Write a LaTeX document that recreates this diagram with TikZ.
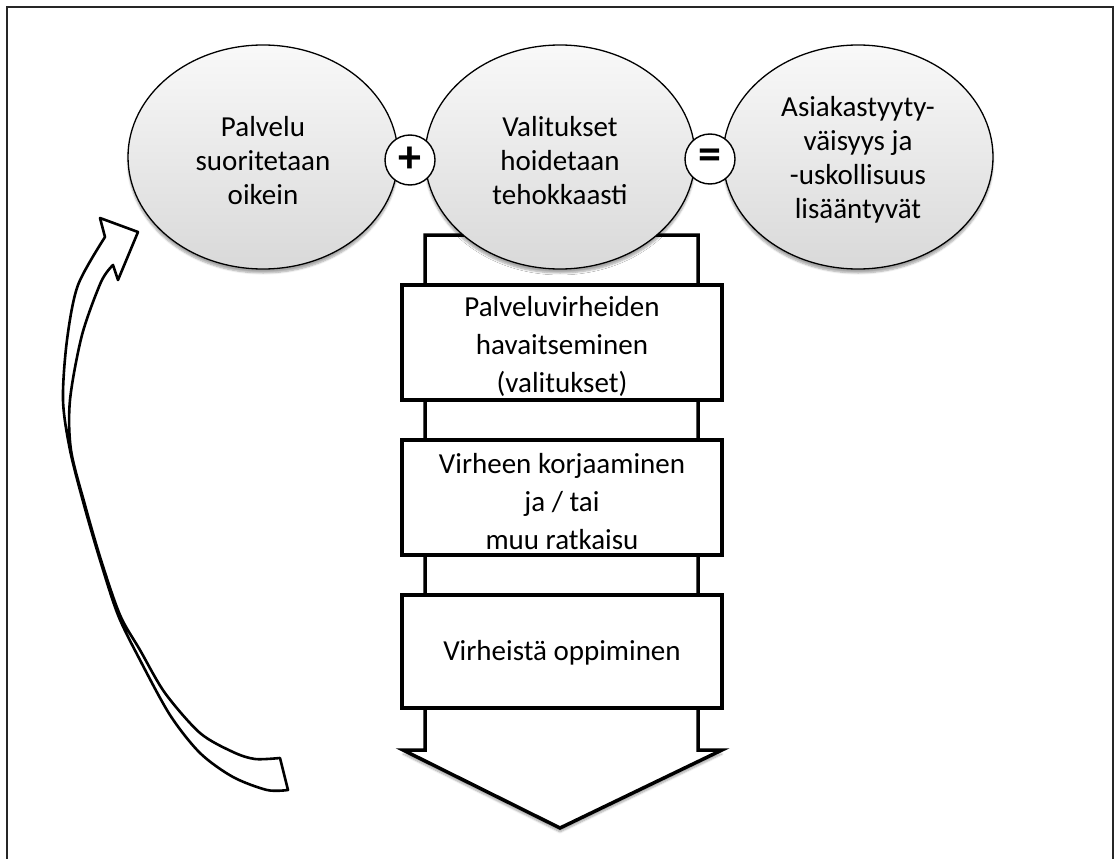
\documentclass[tikz,border=0pt]{standalone}
\usepackage{fontspec}
\setmainfont{Carlito}
\usetikzlibrary{shapes.geometric,shadows.blur}

\begin{document}
\begin{tikzpicture}[x=1pt,y=-1pt,
  softshadow/.style={blur shadow={shadow xshift=0pt, shadow yshift=-4pt,
    shadow blur steps=6, shadow opacity=35}},
  bubble/.style={ellipse, draw=black, line width=1.3pt, minimum width=270pt,
    minimum height=224pt, inner sep=0pt, top color=gray!5, bottom color=gray!30, softshadow},
  bubbletext/.style={align=center, inner sep=0pt, font=\fontsize{29}{34}\selectfont},
  opcircle/.style={circle, draw=black, fill=white, line width=1.4pt, minimum size=50pt,
    inner sep=0pt, font=\fontsize{46}{46}\selectfont\bfseries},
  flowarrow/.style={draw=black, fill=white, line width=3.5pt, line join=miter, softshadow},
  stepbox/.style={rectangle, draw=black, fill=white, line width=3.5pt, minimum width=320pt,
    inner sep=0pt},
  steptext/.style={align=center, inner sep=0pt, font=\fontsize{29}{38}\selectfont},
  loopband/.style={draw=black, fill=white, line width=2.6pt, line join=round}
]
\useasboundingbox (0,0) rectangle (1117,859);
\clip (0,0) rectangle (1117,859);

% outer frame
\draw[line width=2pt, draw=black!85] (7,7) rectangle (1113,880);

% big downward arrow behind the steps
\path[flowarrow] (425,235) -- (698,235) -- (698,750) -- (722,750) -- (560,828)
  -- (403,750) -- (425,750) -- cycle;

% steps
\node[stepbox, minimum height=115pt] (b1) at (562,342.5) {};
\node[stepbox, minimum height=115pt] (b2) at (562,497.5) {};
\node[stepbox, minimum height=113pt] (b3) at (562,651.5) {};
\node[steptext] (s1) at ([yshift=-4pt]b1.center) {Palveluvirheiden\\havaitseminen\\(valitukset)};
\node[steptext] (s2) at ([yshift=-4pt]b2.center) {Virheen korjaaminen\\ja / tai\\muu ratkaisu};
\node[steptext] (s3) at ([yshift=-1pt]b3.center) {Virheistä oppiminen};

% the equation of ellipses
\node[bubble] (e1) at (263,157) {};
\node[bubble] (e2) at (560,157) {};
\node[bubble] (e3) at (858,157) {};
\node[bubbletext] (t1) at (263,161) {Palvelu\\suoritetaan\\oikein};
\node[bubbletext] (t2) at (560,161) {Valitukset\\hoidetaan\\tehokkaasti};
\node[bubbletext] (t3) at (858,160) {Asiakastyyty-\\väisyys ja\\-uskollisuus\\lisääntyvät};

\node[opcircle] (plus) at (410,160) {+};
\node[opcircle] (eq) at (710,159) {=};

% curved feedback arrow on the left
\path[loopband]
  plot[smooth, tension=0.5] coordinates {(288,790) (267,790) (233,777) (200,753)
    (170,715) (140,660) (118,615) (100,560) (84,505) (70,450) (63,400) (67,340)
    (78,285) (105,237)}
  -- (100,218) -- (138,232) -- (118,280) -- (113,265)
  -- plot[smooth, tension=0.5] coordinates {(113,265) (101,282) (82,335) (70,400)
    (71,450) (85,505) (101,560) (120,615) (140,650) (165,693) (200,733) (233,752)
    (255,759) (280,758)}
  -- cycle;
\end{tikzpicture}
\end{document}
